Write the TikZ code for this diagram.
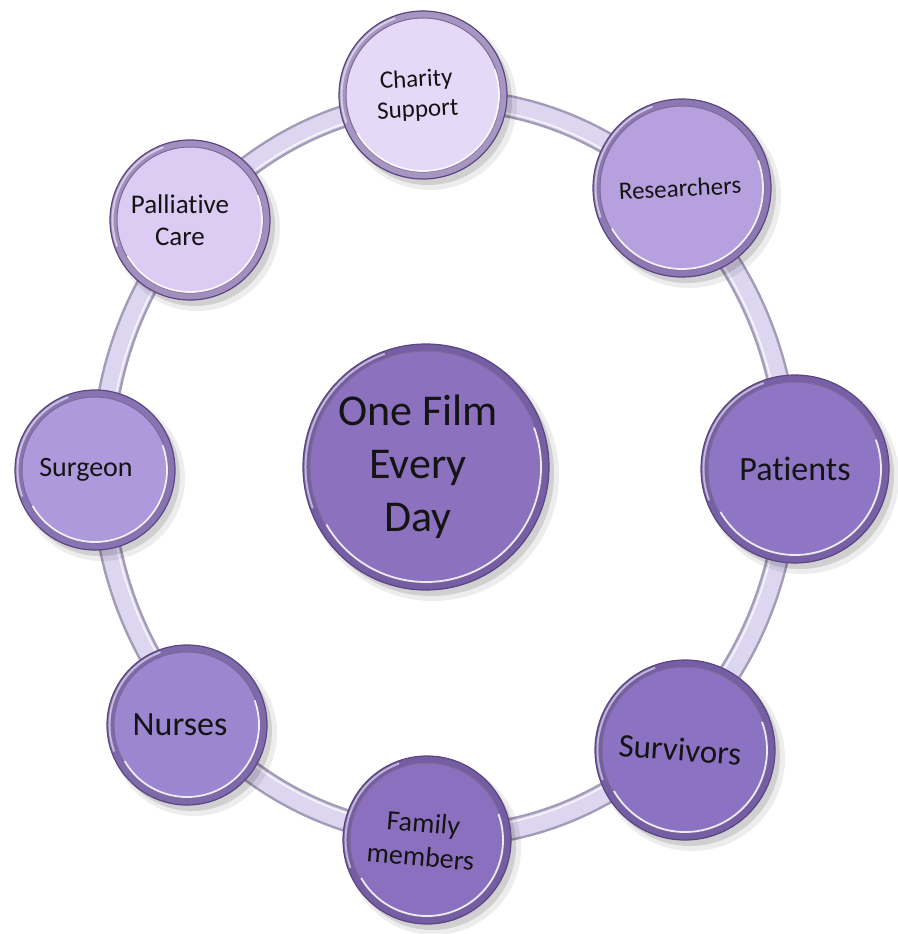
\documentclass[tikz,border=0pt]{standalone}
\usepackage{fontspec}
\setmainfont{Carlito}[Ligatures=NoCommon]
\definecolor{rimdark}{HTML}{5A4680}
\definecolor{ringedge}{HTML}{A29CB8}
\definecolor{ringfill}{HTML}{DDD6F0}
\definecolor{cCharity}{HTML}{E6D8F7}
\definecolor{cPall}{HTML}{DCCBF3}
\definecolor{cRes}{HTML}{B6A1DE}
\definecolor{cSurg}{HTML}{AD99DC}
\definecolor{cPat}{HTML}{8F76C4}
\definecolor{cNurse}{HTML}{9B86CF}
\definecolor{cSurv}{HTML}{8C72C2}
\definecolor{cFam}{HTML}{8B70BF}
\definecolor{cCenter}{HTML}{8C71BF}
\tikzset{
  bubble/.style={circle, inner sep=0pt, align=center, text=black!92},
}
% #1 name, #2 x, #3 y, #4 radius, #5 fill, #6 text, #7 font size, #8 rotation, #9 text x offset
\newcommand\mybub[9]{%
  \fill[black,opacity=0.07] (#2+7,#3+8) circle (#4pt+3pt);
  \fill[black,opacity=0.12] (#2+5,#3+6) circle (#4pt);
  \node[bubble, minimum size=2*#4pt, fill=#5] (#1) at (#2,#3) {};
  \draw[line width=7pt, draw=#5!55!rimdark] (#1.center) circle (#4pt-3.5pt);
  \draw[line width=2pt, draw=white, opacity=0.55] (#1.center) ++(110:#4pt-2.5pt) arc (110:200:#4pt-2.5pt);
  \draw[line width=1.2pt, draw=rimdark] (#1.center) circle (#4pt);
  \draw[line width=1pt, draw=rimdark!80] (#1.center) circle (#4pt-7pt);
  \draw[line width=1.8pt, draw=white, opacity=0.85] (#1.center) ++(-150:#4pt-8pt) arc (-150:20:#4pt-8pt);
  \node[bubble, font=\fontsize{#7}{\the\numexpr(#7*6)/5\relax}\selectfont, rotate=#8, xshift=#9pt] at (#1.center) {#6};
}
\begin{document}
\begin{tikzpicture}[x=1pt,y=-1pt]
\useasboundingbox (0,0) rectangle (897,934);
\coordinate (ringc) at (445,468);
% ring
\draw[line width=23pt, ringedge] (ringc) ellipse [x radius=343pt, y radius=368pt];
\draw[line width=18pt, ringfill] (ringc) ellipse [x radius=343pt, y radius=368pt];
\draw[line width=1.5pt, white, opacity=0.8] (ringc) ellipse [x radius=336pt, y radius=361pt];
% outer bubbles
\mybub{charity}{423}{95}{84}{cCharity}{Charity\\Support}{25}{3}{-6}
\mybub{res}{682}{188}{89}{cRes}{Researchers}{25}{3}{-2}
\mybub{pat}{795}{469}{94}{cPat}{Patients}{34}{0}{0}
\mybub{surv}{685}{750}{90}{cSurv}{Survivors}{33}{-4}{-5}
\mybub{fam}{427}{840}{84}{cFam}{Family\\members}{28}{-5}{-5}
\mybub{nurse}{187}{725}{80}{cNurse}{Nurses}{34}{0}{-7}
\mybub{surg}{95}{470}{80}{cSurg}{Surgeon}{28}{0}{-9}
\mybub{pall}{190}{220}{80}{cPall}{Palliative\\Care}{27}{0}{-10}
% centre
\mybub{centre}{426}{467}{123}{cCenter}{One Film\\Every\\Day}{44}{0}{-8}
\end{tikzpicture}
\end{document}
